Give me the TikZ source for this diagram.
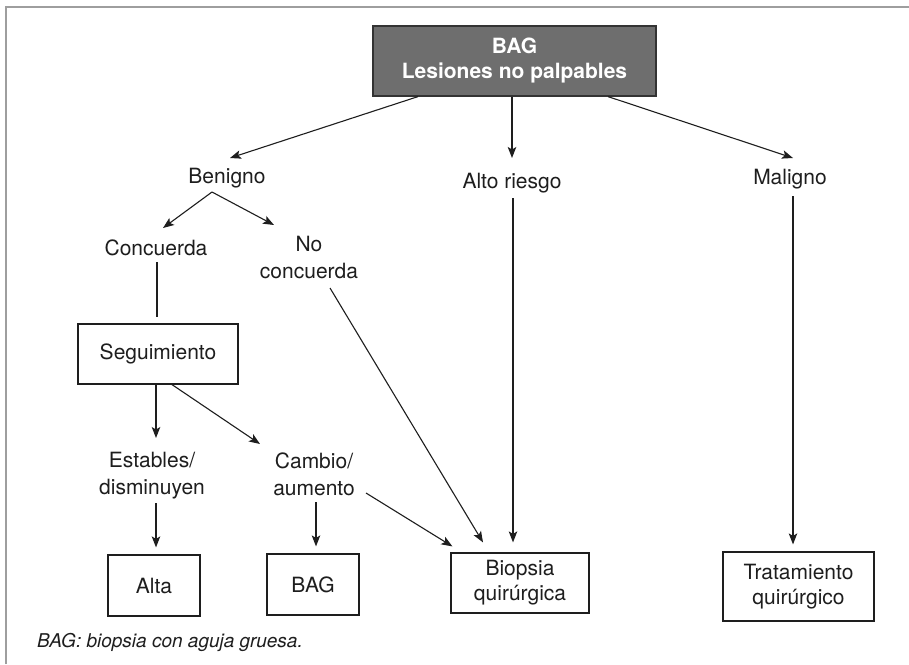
\documentclass[tikz,border=0pt]{standalone}
\usepackage{fontspec}
\setmainfont{TeX Gyre Heros}
\usetikzlibrary{arrows.meta}
\definecolor{framegray}{HTML}{9E9E9E}
\definecolor{topfill}{HTML}{6E6E6E}
\definecolor{ink}{HTML}{1E1E1E}
\begin{document}
\begin{tikzpicture}[x=1pt,y=-1pt,
  lbl/.style={font=\fontsize{21}{27}\selectfont, text=ink, align=center, inner sep=0pt},
  box/.style={draw=ink, line width=1.2pt, font=\fontsize{21}{25}\selectfont, text=ink, align=center, inner sep=0pt},
  arr/.style={draw=ink, line width=1.1pt, -{Stealth[length=11pt,width=8.5pt,inset=2.5pt]}},
  ln/.style={draw=ink, line width=1.1pt}]

\useasboundingbox (0,0) rectangle (909,664);
\fill[white] (0,0) rectangle (909,664);
\draw[framegray, line width=2.5pt] (6.2,664) -- (6.2,7.2) -- (909,7.2);

\node[box, fill=topfill, draw=black!80, text=white, font=\bfseries\fontsize{21}{25}\selectfont, minimum width=283pt, minimum height=70pt] (top) at (514.5,61) {BAG\\Lesiones no palpables};

\node[lbl, anchor=base] (ben) at (227,183) {Benigno};
\node[lbl, anchor=base] (alto) at (512,188) {Alto riesgo};
\node[lbl, anchor=base] (mal) at (790,184) {Maligno};
\node[lbl, anchor=base] (conc) at (156,255) {Concuerda};
\node[lbl] (noc) at (309,257) {No\\concuerda};
\node[box, minimum width=160pt, minimum height=60pt] (seg) at (158,354) {Seguimiento};
\node[lbl] (est) at (152,476) {Estables/\\disminuyen};
\node[lbl] (cam) at (314,474) {Cambio/\\aumento};
\node[box, minimum width=92pt, minimum height=61pt] (alta) at (154,585.5) {Alta};
\node[box, minimum width=92pt, minimum height=61pt] (bag) at (313,584.5) {BAG};
\node[box, minimum width=138pt, minimum height=60pt] (bio) at (520,583) {Biopsia\\quirúrgica};
\node[box, minimum width=151pt, minimum height=69pt] (trat) at (798.5,586.5) {Tratamiento\\quirúrgico};
\node[font=\itshape\fontsize{19}{22}\selectfont, text=ink, anchor=base west, inner sep=0pt] (foot) at (37,647) {BAG: biopsia con aguja gruesa.};

\draw[arr] ([xshift=-96.5pt]top.south) -- ([xshift=3pt,yshift=25pt]ben.base);
\draw[arr] ([xshift=-2.5pt]top.south) -- ([yshift=30pt]alto.base);
\draw[arr] ([xshift=93.5pt]top.south) -- ([xshift=3pt,yshift=26pt]mal.base);
\draw[arr] ([xshift=-15pt,yshift=-9pt]ben.base) -- ([xshift=7pt,yshift=27pt]conc.base);
\draw[arr] ([xshift=-15pt,yshift=-9pt]ben.base) -- ([xshift=-35pt,yshift=32pt]noc.center);
\draw[ln] ([xshift=1pt,yshift=-7pt]conc.base) -- ([xshift=-1pt,yshift=6pt]seg.north);
\draw[arr] ([xshift=-2pt]seg.south) -- ([xshift=4pt,yshift=38pt]est.center);
\draw[arr] ([xshift=14pt]seg.south) -- ([xshift=-54pt,yshift=30pt]cam.center);
\draw[arr] ([xshift=4pt,yshift=-27pt]est.center) -- ([xshift=2pt,yshift=7pt]alta.north);
\draw[arr] ([xshift=2pt,yshift=-28pt]cam.center) -- ([xshift=3pt,yshift=7pt]bag.north);
\draw[arr] ([xshift=52pt,yshift=-19pt]cam.center) -- ([xshift=2pt,yshift=6pt]bio.north west);
\draw[arr] ([xshift=21pt,yshift=-31pt]noc.center) -- ([xshift=-37pt,yshift=10pt]bio.north);
\draw[arr] ([xshift=1pt,yshift=-10pt]alto.base) -- ([xshift=-7pt,yshift=10pt]bio.north);
\draw[arr] ([xshift=3pt,yshift=-12pt]mal.base) -- ([xshift=-5.5pt,yshift=7pt]trat.north);
\end{tikzpicture}
\end{document}
